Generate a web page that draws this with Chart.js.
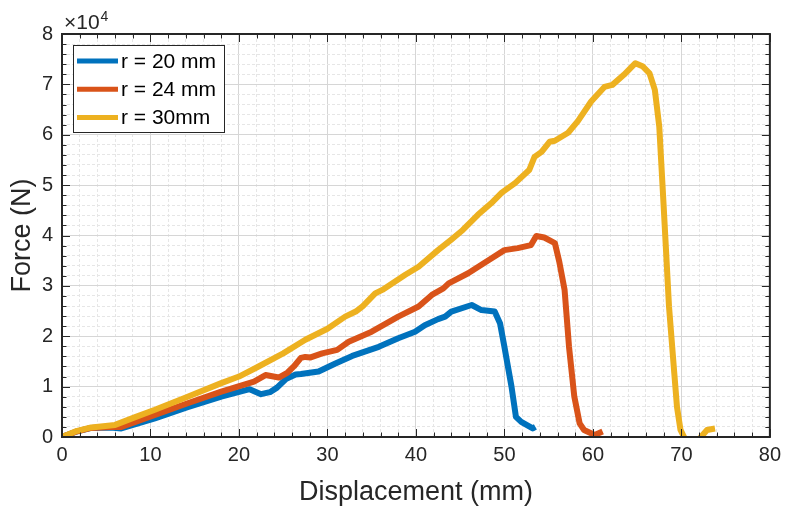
<!DOCTYPE html>
<html>
<head>
<meta charset="utf-8">
<script src="https://cdn.jsdelivr.net/npm/chart.js@4.4.1/dist/chart.umd.min.js"></script>
<style>
html, body { margin: 0; padding: 0; background: #fff; }
</style>
</head>
<body>
<canvas id="forceChart" width="787" height="510"></canvas>
<script>
/* ==========================================
DATA (displacement in mm, force in N)
========================================== */

const seriesLabels = ["r = 20 mm", "r = 24 mm", "r = 30mm"];
const seriesColors = ["#0072BD", "#D95319", "#EDB120"];

const r20X = [0, 1.5, 3.3, 5.5, 6.7, 10.5, 14.2, 18.0, 21.2, 22.5, 23.5, 24.3, 25.3, 26.4, 27.0, 29.0, 30.9, 32.8, 35.8, 38.0, 39.9, 41.0, 42.5, 43.3, 44.0, 46.3, 47.4, 48.9, 49.5, 50.0, 50.8, 51.3, 51.9, 53.2, 53.5];
const r20Y = [0, 1000, 1800, 1900, 1700, 3700, 5900, 8000, 9500, 8500, 8900, 9800, 11500, 12400, 12500, 13000, 14600, 16100, 17900, 19600, 20900, 22200, 23400, 23900, 24900, 26200, 25200, 24900, 22600, 17900, 10000, 4000, 3000, 1700, 2000];

const r24X = [0, 1.5, 3.3, 5.5, 6.7, 10.5, 14.2, 18.0, 21.7, 23.0, 24.5, 25.5, 26.2, 27.0, 27.5, 28.1, 29.4, 31.1, 32.4, 35.0, 38.0, 40.3, 41.8, 43.1, 43.7, 45.9, 48.2, 50.0, 51.5, 53.0, 53.6, 54.5, 55.7, 56.2, 56.8, 57.3, 57.9, 58.5, 59.0, 60.2, 61.1];
const r24Y = [0, 1000, 1800, 2000, 2000, 4400, 6700, 9000, 11000, 12300, 11800, 12800, 14000, 15700, 15900, 15800, 16600, 17300, 18900, 20900, 23900, 25900, 28200, 29500, 30500, 32500, 35100, 37100, 37500, 38100, 39900, 39600, 38500, 34800, 29200, 17900, 8000, 2700, 1400, 400, 1100];

const r30X = [0, 1.5, 3.3, 6.0, 8.2, 10.5, 14.2, 18.0, 20.0, 22.0, 25.0, 27.5, 30.0, 32.0, 33.2, 34.0, 35.4, 36.2, 38.8, 40.3, 42.5, 44.0, 45.3, 47.0, 48.5, 49.7, 51.2, 52.8, 53.4, 54.2, 55.1, 55.7, 57.2, 58.3, 59.8, 61.3, 62.2, 63.5, 64.8, 65.6, 66.4, 67.0, 67.5, 68.0, 68.6, 69.2, 69.5, 69.9, 70.3, 71.2, 72.2, 72.9, 73.8];
const r30Y = [0, 1100, 1900, 2400, 3900, 5400, 8000, 10700, 12000, 13800, 16600, 19300, 21500, 23900, 24900, 26000, 28500, 29200, 32200, 33800, 37100, 39200, 41100, 44100, 46400, 48500, 50400, 53000, 55600, 56600, 58600, 58800, 60400, 62700, 66600, 69500, 69900, 71900, 74200, 73600, 72200, 68900, 61600, 45700, 25900, 12600, 6000, 1400, 0, -5000, 0, 1400, 1700];

const xTickLabels = [0, 10, 20, 30, 40, 50, 60, 70, 80];
const yTickLabels = [0, 1, 2, 3, 4, 5, 6, 7, 8];

/* ==========================================
HELPERS
========================================== */

const FONT = "'Liberation Sans', Arial, Helvetica, sans-serif";
const AXIS_COLOR = "#262626";

function toPoints(xs, ys){
return xs.map((x, i) => ({ x: x, y: ys[i] }));
}

function isMajor(value, step){
const q = value / step;
return Math.abs(q - Math.round(q)) < 1e-6;
}

/* ==========================================
FRAME, INWARD TICKS, LEGEND
========================================== */

const framePlugin = {

id: "frame",

afterDatasetsDraw(chart){

const ctx = chart.ctx;
const area = chart.chartArea;
const xs = chart.scales.x;
const ys = chart.scales.y;

ctx.save();
ctx.strokeStyle = AXIS_COLOR;
ctx.lineWidth = 1;

// x ticks, bottom and top
xs.ticks.forEach(t => {
const px = Math.round(xs.getPixelForValue(t.value)) + 0.5;
const len = isMajor(t.value, 10) ? 8 : 4.5;
ctx.beginPath();
ctx.moveTo(px, area.bottom);
ctx.lineTo(px, area.bottom - len);
ctx.moveTo(px, area.top);
ctx.lineTo(px, area.top + len);
ctx.stroke();
});

// y ticks, left and right
ys.ticks.forEach(t => {
const py = Math.round(ys.getPixelForValue(t.value)) + 0.5;
const len = isMajor(t.value, 10000) ? 8 : 4.5;
ctx.beginPath();
ctx.moveTo(area.left, py);
ctx.lineTo(area.left + len, py);
ctx.moveTo(area.right, py);
ctx.lineTo(area.right - len, py);
ctx.stroke();
});

// box
ctx.lineWidth = 2;
ctx.strokeRect(area.left, area.top, area.right - area.left, area.bottom - area.top);

// exponent label
ctx.fillStyle = AXIS_COLOR;
ctx.textBaseline = "alphabetic";
ctx.textAlign = "left";
ctx.font = "21px " + FONT;
ctx.fillText("\u00d710", 64, 29);
const w = ctx.measureText("\u00d710").width;
ctx.font = "14px " + FONT;
ctx.fillText("4", 64 + w + 1, 21);

// legend
const lx = 73.5, ly = 45.5, lw = 151, lh = 87;
ctx.fillStyle = "#ffffff";
ctx.fillRect(lx, ly, lw, lh);
ctx.lineWidth = 1;
ctx.strokeStyle = AXIS_COLOR;
ctx.strokeRect(lx, ly, lw, lh);

ctx.font = "21px " + FONT;
ctx.textBaseline = "middle";
chart.data.datasets.forEach((ds, i) => {
const y = 61 + i * 28.3;
ctx.strokeStyle = ds.borderColor;
ctx.lineWidth = 5;
ctx.beginPath();
ctx.moveTo(77, y);
ctx.lineTo(118, y);
ctx.stroke();
ctx.fillStyle = "#000000";
ctx.fillText(ds.label, 121, y + 1);
});

ctx.restore();

}

};

/* ==========================================
CHART
========================================== */

function gridColor(ctx, step){
if(!ctx.tick) return AXIS_COLOR;
return isMajor(ctx.tick.value, step) ? "#d6d6d6" : "#e6e6e6";
}

function gridDash(ctx, step){
if(!ctx.tick) return [];
return isMajor(ctx.tick.value, step) ? [] : [3, 2];
}

new Chart(
document.getElementById("forceChart"),
{

type: "line",

data: {

datasets: [
{
label: seriesLabels[0],
data: toPoints(r20X, r20Y),
borderColor: seriesColors[0],
order: 2
},
{
label: seriesLabels[1],
data: toPoints(r24X, r24Y),
borderColor: seriesColors[1],
order: 1
},
{
label: seriesLabels[2],
data: toPoints(r30X, r30Y),
borderColor: seriesColors[2],
order: 0
}
]
},

options: {

responsive: false,
animation: false,

layout: {
padding: { top: 34, right: 14, left: 0, bottom: 0 }
},

elements: {
line: {
borderWidth: 6,
tension: 0,
borderJoinStyle: "round",
borderCapStyle: "butt",
fill: false
},
point: {
radius: 0
}
},

plugins: {
legend: { display: false },
tooltip: { enabled: false }
},

scales: {

x: {
type: "linear",
min: 0,
max: 80,
afterFit: s => { s.height = 73; },
ticks: {
stepSize: 2,
autoSkip: false,
maxRotation: 0,
padding: 6,
color: AXIS_COLOR,
font: { family: FONT, size: 20 },
callback: v => xTickLabels.includes(Math.round(v)) && isMajor(v, 10) ? String(Math.round(v)) : ""
},
grid: {
drawTicks: false,
color: c => gridColor(c, 10),
lineWidth: 1
},
border: {
display: false,
dash: c => gridDash(c, 10)
},
title: {
display: true,
text: "Displacement (mm)",
color: AXIS_COLOR,
font: { family: FONT, size: 27 },
padding: { top: 0, bottom: 1 }
}
},

y: {
type: "linear",
min: 0,
max: 80000,
afterFit: s => { s.width = 62; },
ticks: {
stepSize: 2000,
autoSkip: false,
padding: 9,
color: AXIS_COLOR,
font: { family: FONT, size: 20 },
callback: v => isMajor(v, 10000) && yTickLabels.includes(Math.round(v / 10000)) ? String(Math.round(v / 10000)) : ""
},
grid: {
drawTicks: false,
color: c => gridColor(c, 10000),
lineWidth: 1
},
border: {
display: false,
dash: c => gridDash(c, 10000)
},
title: {
display: true,
text: "Force (N)",
color: AXIS_COLOR,
font: { family: FONT, size: 27 },
padding: { top: 6, bottom: 0 }
}
}

}

},

plugins: [framePlugin]

}
);
</script>
</body>
</html>
